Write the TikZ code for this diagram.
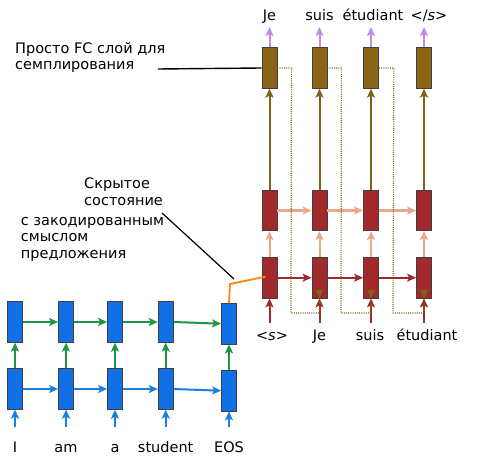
\documentclass[tikz,border=0pt]{standalone}
\usepackage{fontspec}
\setmainfont{DejaVu Sans}
\usetikzlibrary{arrows.meta,calc}
\definecolor{encblue}{HTML}{1170E6}
\definecolor{encarr}{HTML}{1A80E0}
\definecolor{encgreen}{HTML}{1E9445}
\definecolor{decred}{HTML}{A2292B}
\definecolor{salmon}{HTML}{E9A88C}
\definecolor{fcbrown}{HTML}{8A6414}
\definecolor{fcarr}{HTML}{7E6218}
\definecolor{outpurple}{HTML}{C48AE6}
\definecolor{hidorange}{HTML}{FF8412}
\tikzset{
  cell/.style={rectangle, draw=black!75, line width=0.8pt, minimum width=15pt, minimum height=40.5pt, inner sep=0pt},
  encbox/.style={cell, fill=encblue},
  decbox/.style={cell, fill=decred},
  fcbox/.style={cell, fill=fcbrown},
  arr/.style={line width=2pt, -{Stealth[length=9pt,width=8pt,inset=2pt]}},
  wordlbl/.style={anchor=base, inner sep=0pt},
  annot/.style={anchor=base west, align=left, inner sep=0pt},
  fcdots/.style={draw=fcarr, line width=1.2pt, dash pattern=on 1pt off 1.2pt},
}
\begin{document}
\begin{tikzpicture}[x=1pt,y=-1pt,font=\fontsize{14.5}{16.7}\selectfont]
\useasboundingbox (0,0) rectangle (481,470);
% encoder
\node[encbox] (e1u) at (15,322) {};
\node[encbox] (e2u) at (66,322) {};
\node[encbox] (e3u) at (115,322) {};
\node[encbox] (e4u) at (165.7,322) {};
\node[encbox] (e5u) at (229,323.7) {};
\node[encbox] (e1l) at (15,389) {};
\node[encbox] (e2l) at (66,389) {};
\node[encbox] (e3l) at (115,389) {};
\node[encbox] (e4l) at (165.7,389) {};
\node[encbox] (e5l) at (229,390.7) {};
\node[wordlbl] (w1) at (15,452.5) {I};
\node[wordlbl] (w2) at (66,452.5) {am};
\node[wordlbl] (w3) at (115,452.5) {a};
\node[wordlbl] (w4) at (165.7,452.5) {student};
\node[wordlbl] (w5) at (229,452.5) {EOS};
\foreach \i in {1,...,5}{
  \draw[arr,encarr] (e\i l.south |- 0,427) -- (e\i l.south);
  \draw[arr,encgreen] (e\i l.north) -- (e\i u.south);
}
\foreach \i/\j in {1/2,2/3,3/4,4/5}{
  \draw[arr,encarr] (e\i l.east) -- (e\j l.west);
  \draw[arr,encgreen] (e\i u.east) -- (e\j u.west);
}
% decoder
\node[fcbox] (f1) at (269.5,68) {};
\node[fcbox] (f2) at (319.5,68) {};
\node[fcbox] (f3) at (371,68) {};
\node[fcbox] (f4) at (424,68) {};
\node[decbox] (d1u) at (269.5,210.5) {};
\node[decbox] (d2u) at (319.5,210.5) {};
\node[decbox] (d3u) at (371,210.5) {};
\node[decbox] (d4u) at (424,210.5) {};
\node[decbox] (d1l) at (269.5,277.7) {};
\node[decbox] (d2l) at (319.5,277.7) {};
\node[decbox] (d3l) at (371,277.7) {};
\node[decbox] (d4l) at (424,277.7) {};
\node[wordlbl] (o1) at (269.5,20.7) {Je};
\node[wordlbl] (o2) at (319.5,20.7) {suis};
\node[wordlbl] (o3) at (373,20.7) {étudiant};
\node[wordlbl] (o4) at (429,20.7) {</\textit{s}>};
\node[wordlbl] (i1) at (272,340.7) {<\textit{s}>};
\node[wordlbl] (i2) at (319.5,340.7) {Je};
\node[wordlbl] (i3) at (370,340.7) {suis};
\node[wordlbl] (i4) at (427,340.7) {étudiant};
\foreach \i in {1,...,4}{
  \draw[arr,decred] (d\i l.south |- 0,323) -- (d\i l.south);
  \draw[arr,salmon] (d\i l.north) -- (d\i u.south);
  \draw[arr,fcarr] (d\i u.north) -- (f\i.south);
  \draw[arr,outpurple] (f\i.north) -- (f\i.north |- 0,27);
}
\foreach \i/\j in {1/2,2/3,3/4}{
  \draw[arr,decred] (d\i l.east) -- (d\j l.west);
  \draw[arr,salmon] (d\i u.east) -- (d\j u.west);
}
% feedback dotted lines
\draw[fcdots] (f1.east) -- ++(14,0) -- (291,313) -| ([yshift=8pt]d2l.south);
\draw[fcdots] (f2.east) -- ++(14,0) -- (341,313) -| ([yshift=8pt]d3l.south);
\draw[fcdots] (f3.east) -- ++(15,0) -- (393,313) -| ([yshift=8pt]d4l.south);
\foreach \j in {2,3,4}{
  \draw[arr,fcarr] ([yshift=9pt]d\j l.south) -- (d\j l.south);
}
% hidden state
\coordinate (hidcorner) at (230,284);
\draw[hidorange, line width=1.8pt] (e5u.north) -- (hidcorner) -- ($(d1l.center)+(-4,-1)$);
% annotations
\node[annot] (ann1) at (15,70) {Просто FC слой для\\семплирования};
\node[annot] (ann2) at (84,205) {Скрытое\\состояние};
\node[annot] (ann3) at (20.7,258.4) {с закодированным\\смыслом\\предложения};
\coordinate (ann1end) at (158,69);
\coordinate (ann3end) at (162,213);
\coordinate (annend) at (234,279);
\draw[black, line width=1.4pt] (ann1end) -- (f1.west);
\draw[black, line width=1.2pt] (ann3end) -- (annend);
\end{tikzpicture}
\end{document}
